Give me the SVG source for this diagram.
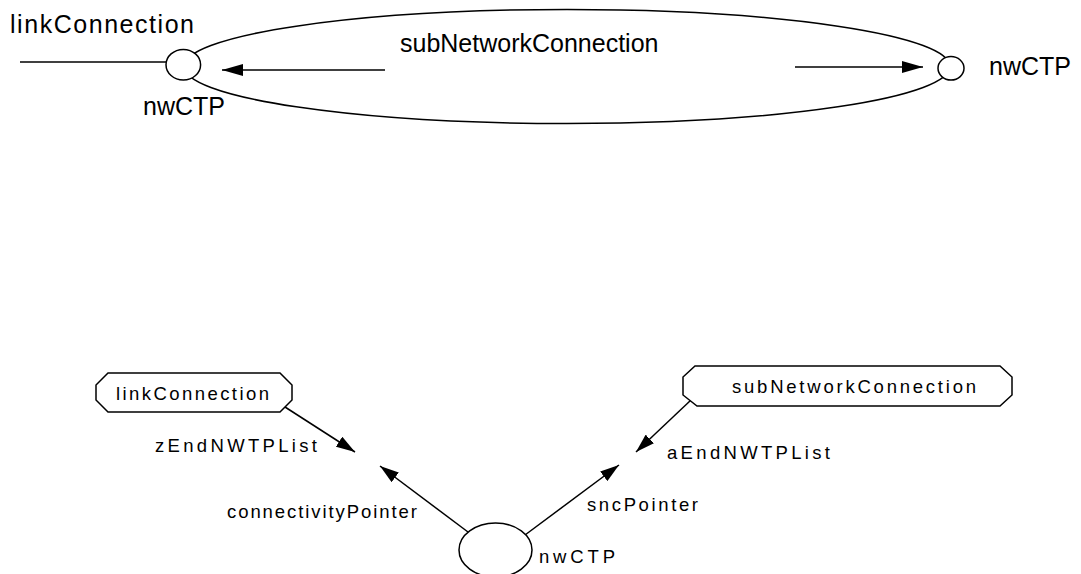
<svg xmlns="http://www.w3.org/2000/svg" width="1081" height="574" viewBox="0 0 1081 574">
<style>
.ln{stroke:#000;stroke-width:1.5;fill:none}
.sh{stroke:#000;stroke-width:1.5;fill:#fff}
.big{font-family:"Liberation Sans",Arial,sans-serif;font-size:25px;fill:#000}
.sm{font-family:"Liberation Sans",Arial,sans-serif;font-size:18.5px;fill:#000}
</style>
<defs>
<marker id="ah" markerUnits="userSpaceOnUse" markerWidth="21" markerHeight="12" refX="21" refY="6" orient="auto"><path d="M0,0 L21,6 L0,12 z" fill="#000"/></marker>
<marker id="as" markerUnits="userSpaceOnUse" markerWidth="19" markerHeight="12" refX="19" refY="6" orient="auto"><path d="M0,0 L19,6 L0,12 z" fill="#000"/></marker>
</defs>
<g id="connectors">
<line class="ln" x1="20" y1="62" x2="166" y2="62"/>
<line class="ln" x1="385" y1="70" x2="222" y2="70" marker-end="url(#ah)"/>
<line class="ln" x1="795" y1="67" x2="923" y2="67" marker-end="url(#ah)"/>
<line class="ln" x1="285" y1="407" x2="355" y2="452" marker-end="url(#as)"/>
<line class="ln" x1="468" y1="532" x2="380" y2="466" marker-end="url(#as)"/>
<line class="ln" x1="691" y1="400" x2="636" y2="452" marker-end="url(#as)"/>
<line class="ln" x1="525" y1="535" x2="619" y2="465" marker-end="url(#as)"/>
</g>
<g id="subNetworkConnectionTop">
<ellipse class="ln" cx="567" cy="66.5" rx="383" ry="57"/>
<text class="big" x="400" y="52">subNetworkConnection</text>
</g>
<g id="nwCTPLeft">
<ellipse class="sh" cx="183.3" cy="64.7" rx="17.3" ry="15.3"/>
<text class="big" x="143" y="115">nwCTP</text>
</g>
<g id="nwCTPRight">
<ellipse class="sh" cx="951" cy="68.3" rx="13" ry="11.7"/>
<text class="big" x="989" y="75">nwCTP</text>
</g>
<g id="linkConnectionTop">
<text class="big" x="10" y="33" textLength="184" lengthAdjust="spacing">linkConnection</text>
</g>
<g id="linkConnectionBox">
<polygon class="sh" points="108,373 280,373 292,385 292,400 280,412 108,412 96,400 96,385"/>
<text class="sm" x="116" y="400" textLength="153" lengthAdjust="spacing">linkConnection</text>
</g>
<g id="subNetworkConnectionBox">
<polygon class="sh" points="695,366 1000,366 1012,377 1012,395 1000,406 697,406 683,395 683,377"/>
<text class="sm" x="732" y="393" textLength="244" lengthAdjust="spacing">subNetworkConnection</text>
</g>
<g id="nwCTPBottom">
<ellipse class="sh" cx="495.5" cy="550" rx="36.5" ry="27"/>
<text class="sm" x="539" y="563" textLength="76" lengthAdjust="spacing">nwCTP</text>
</g>
<g id="labels">
<text class="sm" x="155" y="452" textLength="162" lengthAdjust="spacing">zEndNWTPList</text>
<text class="sm" x="227" y="518" textLength="190" lengthAdjust="spacing">connectivityPointer</text>
<text class="sm" x="667" y="459" textLength="163" lengthAdjust="spacing">aEndNWTPList</text>
<text class="sm" x="587" y="511" textLength="111" lengthAdjust="spacing">sncPointer</text>
</g>
</svg>
